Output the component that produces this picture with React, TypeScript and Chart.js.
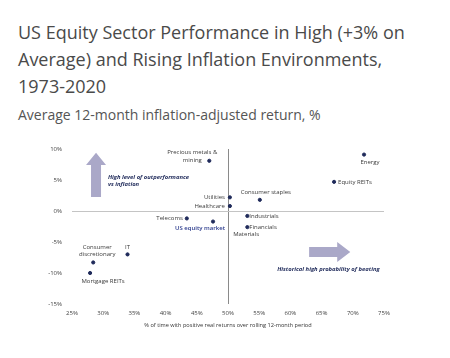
import React, { useEffect, useRef } from "react";
import { Chart, registerables } from "chart.js";

Chart.register(...registerables);

const sectors = [
  "Precious metals & mining",
  "Energy",
  "Equity REITs",
  "Consumer staples",
  "Utilities",
  "Healthcare",
  "Industrials",
  "Financials",
  "Telecoms",
  "US equity market",
  "IT",
  "Consumer discretionary",
  "Mortgage REITs",
  "Materials",
];
const pctPositive = [47.0, 71.8, 67.0, 55.1, 50.3, 50.3, 53.1, 53.1, 43.4, 47.6, 33.9, 28.4, 27.9, 52.9];
const realReturn = [8.1, 9.1, 4.7, 1.8, 2.2, 0.8, -0.8, -2.6, -1.2, -1.7, -7.0, -8.3, -10.0, -3.7];
const hasDot = [true, true, true, true, true, true, true, true, true, true, true, true, true, false];

const xTicks = [25, 30, 35, 40, 45, 50, 55, 60, 65, 70, 75];
const yTicks = [-15, -10, -5, 0, 5, 10];

// label placement (pixel offsets from point), kept separate from data
type Place = { lines: string[]; dx: number; dy: number; align: CanvasTextAlign; color?: string; bold?: boolean };
const placements: Record<string, Place> = {
  "Precious metals & mining": { lines: ["Precious metals &", "mining"], dx: -17, dy: -8, align: "center" },
  Energy: { lines: ["Energy"], dx: 6, dy: 8, align: "center" },
  "Equity REITs": { lines: ["Equity REITs"], dx: 4, dy: 0, align: "left" },
  "Consumer staples": { lines: ["Consumer staples"], dx: 6, dy: -8, align: "center" },
  Utilities: { lines: ["Utilities"], dx: -5, dy: 0, align: "right" },
  Healthcare: { lines: ["Healthcare"], dx: -5, dy: 0, align: "right" },
  Industrials: { lines: ["Industrials"], dx: 2, dy: 0, align: "left" },
  Financials: { lines: ["Financials"], dx: 2, dy: 0, align: "left" },
  Telecoms: { lines: ["Telecoms"], dx: -4, dy: 0, align: "right" },
  "US equity market": { lines: ["US equity market"], dx: -13, dy: 7, align: "center", color: "#2a3a8c", bold: true },
  IT: { lines: ["IT"], dx: 0, dy: -7, align: "center" },
  "Consumer discretionary": { lines: ["Consumer", "discretionary"], dx: 4, dy: -15.5, align: "center" },
  "Mortgage REITs": { lines: ["Mortgage REITs"], dx: 13, dy: 8.5, align: "center" },
  Materials: { lines: ["Materials"], dx: 0, dy: 0, align: "center" },
};

const FONT = "'Open Sans', 'DejaVu Sans', sans-serif";

const decorPlugin = {
  id: "decor",
  afterDatasetsDraw(chart: any) {
    const { ctx, scales } = chart;
    const xs = scales.x;
    const ys = scales.y;
    ctx.save();
    // point labels
    sectors.forEach((name, i) => {
      const p = placements[name];
      const px = xs.getPixelForValue(pctPositive[i]) + p.dx;
      const py = ys.getPixelForValue(realReturn[i]) + p.dy;
      ctx.font = `${p.bold ? "600 " : ""}6px ${FONT}`;
      ctx.fillStyle = p.color || "#3a3a3a";
      ctx.textAlign = p.align;
      ctx.textBaseline = "middle";
      p.lines.forEach((ln, k) => ctx.fillText(ln, px, py + k * 7.5));
    });

    // arrows
    ctx.fillStyle = "#aaa8c8";
    // up arrow
    const ux = xs.getPixelForValue(28.85);
    const uTip = ys.getPixelForValue(9.4);
    const uBase = ys.getPixelForValue(7.4);
    const uBottom = ys.getPixelForValue(2.26);
    ctx.beginPath();
    ctx.moveTo(ux, uTip);
    ctx.lineTo(ux + 10, uBase);
    ctx.lineTo(ux + 5, uBase);
    ctx.lineTo(ux + 5, uBottom);
    ctx.lineTo(ux - 5, uBottom);
    ctx.lineTo(ux - 5, uBase);
    ctx.lineTo(ux - 10, uBase);
    ctx.closePath();
    ctx.fill();
    // right arrow
    const ry = ys.getPixelForValue(-6.6);
    const rStart = xs.getPixelForValue(63.0);
    const rBase = xs.getPixelForValue(67.5);
    const rTip = xs.getPixelForValue(69.6);
    ctx.beginPath();
    ctx.moveTo(rTip, ry);
    ctx.lineTo(rBase, ry - 10);
    ctx.lineTo(rBase, ry - 5);
    ctx.lineTo(rStart, ry - 5);
    ctx.lineTo(rStart, ry + 5);
    ctx.lineTo(rBase, ry + 5);
    ctx.lineTo(rBase, ry + 10);
    ctx.closePath();
    ctx.fill();

    // annotations
    ctx.fillStyle = "#1f2a5a";
    ctx.font = `italic bold 5.9px ${FONT}`;
    ctx.textAlign = "left";
    ctx.textBaseline = "middle";
    ctx.fillText("High level of outperformance", xs.getPixelForValue(30.75), ys.getPixelForValue(5.4));
    ctx.fillText("vs inflation", xs.getPixelForValue(30.75), ys.getPixelForValue(4.35));
    ctx.textAlign = "center";
    ctx.fillText("Historical high probability of beating", xs.getPixelForValue(66.1), ys.getPixelForValue(-9.35));
    ctx.restore();
  },
};

export default function App() {
  const ref = useRef<HTMLCanvasElement | null>(null);
  useEffect(() => {
    if (!ref.current) return;
    const data = sectors.map((s, i) => ({ x: pctPositive[i], y: realReturn[i], dot: hasDot[i] }));
    const chart = new Chart(ref.current, {
      type: "scatter",
      data: {
        datasets: [
          {
            data: data as any,
            backgroundColor: "#1f2a5a",
            borderColor: "#1f2a5a",
            pointRadius: data.map((d) => (d.dot ? 1.6 : 0)),
            pointHoverRadius: 0,
          },
        ],
      },
      options: {
        responsive: false,
        animation: false,
        events: [],
        layout: { padding: { left: 0, right: 66, top: 149, bottom: 29 } },
        plugins: { legend: { display: false }, tooltip: { enabled: false } },
        scales: {
          x: {
            type: "linear",
            min: 25,
            max: 75,
            afterBuildTicks: (s: any) => {
              s.ticks = xTicks.map((v) => ({ value: v }));
            },
            afterFit: (s: any) => {
              s.height = 25;
            },
            ticks: {
              callback: (v: any) => v + "%",
              font: { size: 6, family: FONT },
              color: "#444",
              padding: 6,
              maxRotation: 0,
            },
            grid: {
              drawTicks: false,
              color: (c: any) => (c.tick && c.tick.value === 50 ? "#8a8a8a" : "rgba(0,0,0,0)"),
              lineWidth: 1,
            },
            border: { display: false },
            title: {
              display: true,
              text: "% of time with positive real returns over rolling 12-month period",
              font: { size: 5.6, family: FONT },
              color: "#333",
              padding: { top: 4, bottom: 0 },
            },
          },
          y: {
            type: "linear",
            min: -15,
            max: 10,
            afterBuildTicks: (s: any) => {
              s.ticks = yTicks.map((v) => ({ value: v }));
            },
            afterFit: (s: any) => {
              s.width = 72;
            },
            ticks: {
              callback: (v: any) => v + "%",
              font: { size: 6, family: FONT },
              color: "#444",
              padding: 10,
            },
            grid: {
              drawTicks: false,
              color: (c: any) => (c.tick && c.tick.value === 0 ? "#c4c4c4" : "rgba(0,0,0,0)"),
              lineWidth: 1,
            },
            border: { display: false },
          },
        },
      },
      plugins: [decorPlugin],
    });
    return () => chart.destroy();
  }, []);

  return (
    <div style={{ position: "absolute", left: 0, top: 0, width: 450, height: 358, background: "#fff" }}>
      <div
        style={{
          position: "absolute",
          left: 18,
          top: 19,
          fontFamily: FONT,
          fontSize: 18,
          lineHeight: "27px",
          color: "#4a4a4a",
          width: 432,
          whiteSpace: "nowrap",
        }}
      >
        US Equity Sector Performance in High (+3% on
        <br />
        Average) and Rising Inflation Environments,
        <br />
        1973-2020
      </div>
      <div
        style={{
          position: "absolute",
          left: 18,
          top: 105,
          fontFamily: FONT,
          fontSize: 14,
          lineHeight: "20px",
          color: "#555",
          whiteSpace: "nowrap",
        }}
      >
        Average 12-month inflation-adjusted return, %
      </div>
      <canvas ref={ref} width={450} height={358} style={{ position: "absolute", left: 0, top: 0 }} />
    </div>
  );
}
